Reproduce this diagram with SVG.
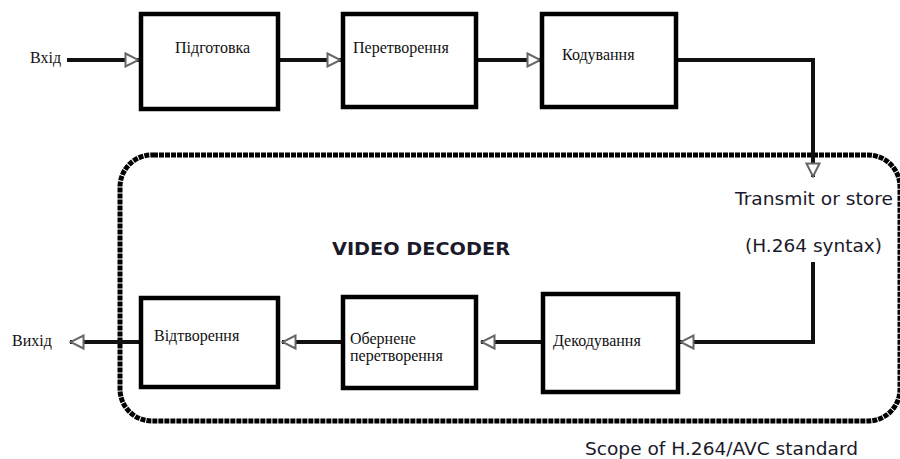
<svg xmlns="http://www.w3.org/2000/svg" width="900" height="459" viewBox="0 0 900 459">
<style>
.box{fill:#fff;stroke:#000;stroke-width:4.5}
.lbl{font-family:"Liberation Serif","Times New Roman",serif;font-size:16px;fill:#111}
.sans{font-family:"DejaVu Sans",Verdana,sans-serif;fill:#1a1a2a}
.wire{fill:none;stroke:#111;stroke-width:4}
</style>
<defs>
<marker id="ah" viewBox="0 0 16 16" refX="15" refY="8" markerWidth="16" markerHeight="16" markerUnits="userSpaceOnUse" orient="auto">
<path d="M1.5,1.5 L14.5,8 L1.5,14.5 Z" fill="#fff" stroke="#666" stroke-width="2"/>
</marker>
</defs>
<rect width="900" height="459" fill="#fff"/>
<g id="scope">
<path d="M153,155 H868 A32,32 0 0 1 900,187 V389 A32,32 0 0 1 868,421 H152 A32,32 0 0 1 120,389 V187 A32,32 0 0 1 153,155 Z" fill="none" stroke="#000" stroke-width="5" stroke-dasharray="5 1"/>
<text class="sans" x="332" y="255" font-size="18" font-weight="bold" textLength="178" lengthAdjust="spacingAndGlyphs" fill="#222">VIDEO DECODER</text>
<text class="sans" x="585" y="455" font-size="17" textLength="273" lengthAdjust="spacingAndGlyphs">Scope of H.264/AVC standard</text>
</g>
<g id="connectors">
<path class="wire" d="M67,60 H139" marker-end="url(#ah)"/>
<path class="wire" d="M279,60 H341" marker-end="url(#ah)"/>
<path class="wire" d="M477,60 H541" marker-end="url(#ah)"/>
<path class="wire" d="M677,60 H813 V177" marker-end="url(#ah)"/>
<path class="wire" d="M813,262 V342 H680" marker-end="url(#ah)"/>
<path class="wire" d="M542,342 H481" marker-end="url(#ah)"/>
<path class="wire" d="M342,342 H282" marker-end="url(#ah)"/>
<path class="wire" d="M140,342 H70" marker-end="url(#ah)"/>
</g>
<g id="in"><text class="lbl" x="30" y="63">Вхід</text></g>
<g id="out"><text class="lbl" x="12" y="346">Вихід</text></g>
<g id="transmit">
<text class="sans" x="735" y="205" font-size="17" textLength="158" lengthAdjust="spacingAndGlyphs">Transmit or store</text>
<text class="sans" x="745" y="252" font-size="17" textLength="137" lengthAdjust="spacingAndGlyphs">(H.264 syntax)</text>
</g>
<g id="prep"><rect class="box" x="141" y="14" width="137" height="95"/><text class="lbl" x="175" y="53">Підготовка</text></g>
<g id="transform"><rect class="box" x="343" y="14" width="133" height="93"/><text class="lbl" x="353" y="53">Перетворення</text></g>
<g id="encode"><rect class="box" x="542" y="14" width="134" height="93"/><text class="lbl" x="562" y="60">Кодування</text></g>
<g id="decode"><rect class="box" x="543" y="294" width="135" height="98"/><text class="lbl" x="553" y="346">Декодування</text></g>
<g id="inverse"><rect class="box" x="343" y="297" width="133" height="91"/><text class="lbl" x="350" y="344">Обернене</text><text class="lbl" x="350" y="361">перетворення</text></g>
<g id="recon"><rect class="box" x="141" y="298" width="137" height="89"/><text class="lbl" x="154" y="341">Відтворення</text></g>
</svg>
